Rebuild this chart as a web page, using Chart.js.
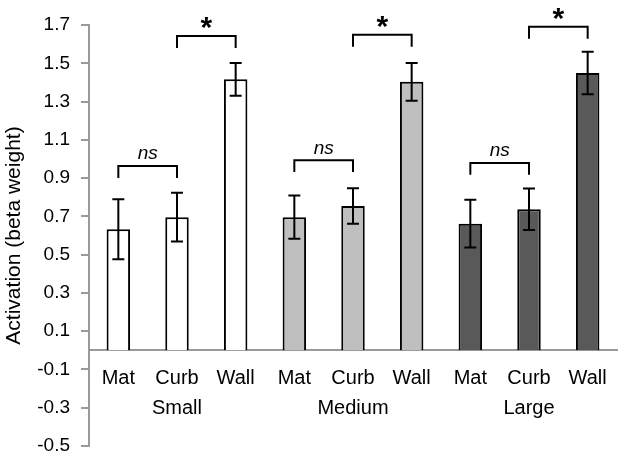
<!DOCTYPE html>
<html>
<head>
<meta charset="utf-8">
<script src="https://cdn.jsdelivr.net/npm/chart.js@4.4.1/dist/chart.umd.min.js"></script>
<style>
  html, body { margin: 0; padding: 0; background: #fff; }
  #wrap { width: 624px; height: 462px; }
</style>
</head>
<body>
<div id="wrap"><canvas id="chart"></canvas></div>
<script>
// conditions and sizes
const conditions = ['Mat', 'Curb', 'Wall'];
const sizes = ['Small', 'Medium', 'Large'];

// mean activation and error (half range) per bar, in order Small, Medium, Large
const activation = [0.633, 0.696, 1.416, 0.696, 0.754, 1.403, 0.662, 0.737, 1.449];
const errors = [0.157, 0.128, 0.086, 0.113, 0.093, 0.099, 0.125, 0.108, 0.111];

const sizeColors = ['#ffffff', '#bfbfbf', '#595959'];

// y ticks
const yMin = -0.5;
const yMax = 1.7;
const yStep = 0.2;

// significance brackets
const bracketFrom = [0, 1, 3, 4, 6, 7];
const bracketTo = [1, 2, 4, 5, 7, 8];
const bracketTop = [0.963, 1.642, 0.993, 1.649, 0.979, 1.691];
const bracketEnd = [0.90, 1.58, 0.932, 1.586, 0.918, 1.628];
const bracketText = ['ns', '*', 'ns', '*', 'ns', '*'];

const labels = [];
const colors = [];
sizes.forEach((size, s) => {
    conditions.forEach((cond, c) => {
        labels.push(c === 1 ? [cond, size] : [cond]);
        colors.push(sizeColors[s]);
    });
});

const annotations = {
    id: 'annotations',
    afterDatasetsDraw(chart) {
        const ctx = chart.ctx;
        const x = chart.scales.x;
        const y = chart.scales.y;
        ctx.save();
        ctx.strokeStyle = '#000';
        ctx.lineWidth = 2;
        // error bars
        activation.forEach((v, i) => {
            const px = x.getPixelForValue(i);
            const top = y.getPixelForValue(v + errors[i]);
            const bot = y.getPixelForValue(v - errors[i]);
            ctx.beginPath();
            ctx.moveTo(px, top); ctx.lineTo(px, bot);
            ctx.moveTo(px - 6, top); ctx.lineTo(px + 6, top);
            ctx.moveTo(px - 6, bot); ctx.lineTo(px + 6, bot);
            ctx.stroke();
        });
        // brackets
        ctx.fillStyle = '#000';
        ctx.textAlign = 'center';
        ctx.textBaseline = 'middle';
        bracketFrom.forEach((from, i) => {
            const x1 = x.getPixelForValue(from);
            const x2 = x.getPixelForValue(bracketTo[i]);
            const top = y.getPixelForValue(bracketTop[i]);
            const end = y.getPixelForValue(bracketEnd[i]);
            ctx.beginPath();
            ctx.moveTo(x1, end); ctx.lineTo(x1, top); ctx.lineTo(x2, top); ctx.lineTo(x2, end);
            ctx.stroke();
            if (bracketText[i] === '*') {
                ctx.font = 'bold 30px "Liberation Sans", Arial, sans-serif';
                ctx.fillText('*', (x1 + x2) / 2, top - 7);
            } else {
                ctx.font = 'italic 19px "Liberation Sans", Arial, sans-serif';
                ctx.fillText(bracketText[i], (x1 + x2) / 2, top - 12);
            }
        });
        ctx.restore();
    }
};

new Chart(document.getElementById('chart'), {
    type: 'bar',
    data: {
        labels: labels,
        datasets: [{
            data: activation,
            backgroundColor: colors,
            borderColor: '#000',
            borderWidth: 2,
            categoryPercentage: 1,
            barPercentage: 0.4
        }]
    },
    options: {
        responsive: true,
        maintainAspectRatio: false,
        animation: false,
        layout: { padding: { top: 25, right: 7, bottom: 16, left: 0 } },
        plugins: { legend: { display: false }, tooltip: { enabled: false } },
        scales: {
            x: {
                position: { y: 0 },
                grid: { display: false, drawTicks: false },
                border: { color: '#9a9a9a', width: 2 },
                ticks: {
                    color: '#000',
                    padding: 13,
                    autoSkip: false,
                    maxRotation: 0,
                    font: { family: '"Liberation Sans", Arial, sans-serif', size: 20, lineHeight: 1.5 }
                },
                afterFit: scale => { scale.height = 0; }
            },
            y: {
                min: yMin,
                max: yMax,
                grid: { drawOnChartArea: false, drawTicks: true, tickLength: 8, color: '#9a9a9a', lineWidth: 2 },
                border: { color: '#9a9a9a', width: 2 },
                ticks: {
                    stepSize: yStep,
                    color: '#000',
                    padding: 11,
                    font: { family: '"Liberation Sans", Arial, sans-serif', size: 19 },
                    callback: v => Number(v).toFixed(1)
                },
                title: {
                    display: true,
                    text: 'Activation (beta weight)',
                    color: '#000',
                    padding: { top: 2, bottom: 0 },
                    font: { family: '"Liberation Sans", Arial, sans-serif', size: 21 }
                },
                afterFit: scale => {
                    scale.width = 89;
                    scale.paddingTop = 0;
                    scale.paddingBottom = 0;
                }
            }
        }
    },
    plugins: [annotations]
});
</script>
</body>
</html>
